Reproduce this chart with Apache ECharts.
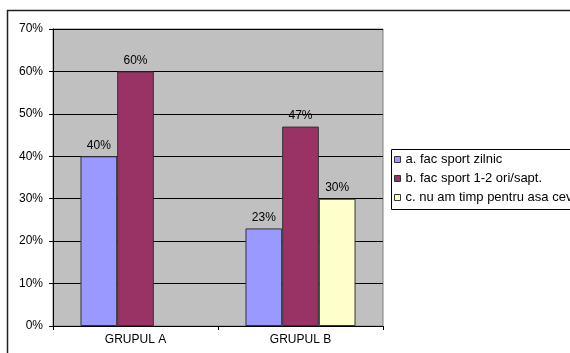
<!DOCTYPE html>
<html>
<head>
<meta charset="utf-8">
<script src="https://cdn.jsdelivr.net/npm/echarts@6/dist/echarts.min.js"></script>
<style>
  html, body { margin: 0; padding: 0; background: #fff; }
  #chart { width: 570px; height: 353px; }
</style>
</head>
<body>
<div id="chart"></div>
<script>
// Survey groups and answer shares (percent)
const categories = ['GRUPUL A', 'GRUPUL B'];
const seriesNames = ['a. fac sport zilnic', 'b. fac sport 1-2 ori/sapt.', 'c. nu am timp pentru asa ceva'];
const dailySport = [40, 23];
const weeklySport = [60, 47];
const noTime = [null, 30];
const yTicks = { min: 0, max: 70, interval: 10 };

const colors = ['#9999FF', '#993366', '#FFFFCC'];
const font = 'Liberation Sans, Arial, sans-serif';
const values = [dailySport, weeklySport, noTime];

const chart = echarts.init(document.getElementById('chart'), null, { renderer: 'canvas' });

chart.setOption({
  animation: false,
  backgroundColor: '#ffffff',
  textStyle: { fontFamily: font },
  grid: {
    left: 53, right: 187, top: 29, bottom: 27,
    containLabel: false,
    show: true,
    backgroundColor: '#C0C0C0',
    borderColor: '#808080',
    borderWidth: 1
  },
  xAxis: {
    type: 'category',
    data: categories,
    axisLine: { lineStyle: { color: '#000', width: 1 } },
    axisTick: { show: true, length: 4, lineStyle: { color: '#000' } },
    axisLabel: { color: '#000', fontSize: 12, margin: 8, fontFamily: font },
    splitLine: { show: false }
  },
  yAxis: {
    type: 'value',
    min: yTicks.min, max: yTicks.max, interval: yTicks.interval,
    axisLine: { show: true, lineStyle: { color: '#000', width: 1 } },
    axisTick: { show: true, length: 4, lineStyle: { color: '#000' } },
    axisLabel: { color: '#000', fontSize: 12, margin: 10, formatter: '{value}%', fontFamily: font },
    splitLine: { show: true, lineStyle: { color: '#000', width: 1 } }
  },
  legend: {
    orient: 'vertical',
    left: 394, top: 153,
    padding: 0,
    itemWidth: 6, itemHeight: 6,
    itemGap: 6,
    icon: 'rect',
    itemStyle: { borderColor: '#333', borderWidth: 1 },
    textStyle: { color: '#000', fontSize: 13, fontFamily: font },
    data: seriesNames
  },
  graphic: [
    {
      type: 'rect', silent: true, z: 100,
      shape: { x: 7.5, y: 10.5, width: 700, height: 500 },
      style: { fill: 'none', stroke: '#222', lineWidth: 1.5 }
    },
    {
      type: 'rect', silent: true, z: 100,
      shape: { x: 391.5, y: 149.5, width: 300, height: 60 },
      style: { fill: 'none', stroke: '#000', lineWidth: 1 }
    }
  ],
  series: seriesNames.map((name, i) => ({
    name,
    type: 'bar',
    data: values[i],
    barGap: '0%',
    barCategoryGap: '33.3%',
    itemStyle: { color: colors[i], borderColor: '#333', borderWidth: 1 },
    label: {
      show: true,
      position: 'top',
      distance: 5,
      color: '#000',
      fontSize: 12,
      fontFamily: font,
      formatter: '{c}%'
    }
  }))
});
</script>
</body>
</html>
